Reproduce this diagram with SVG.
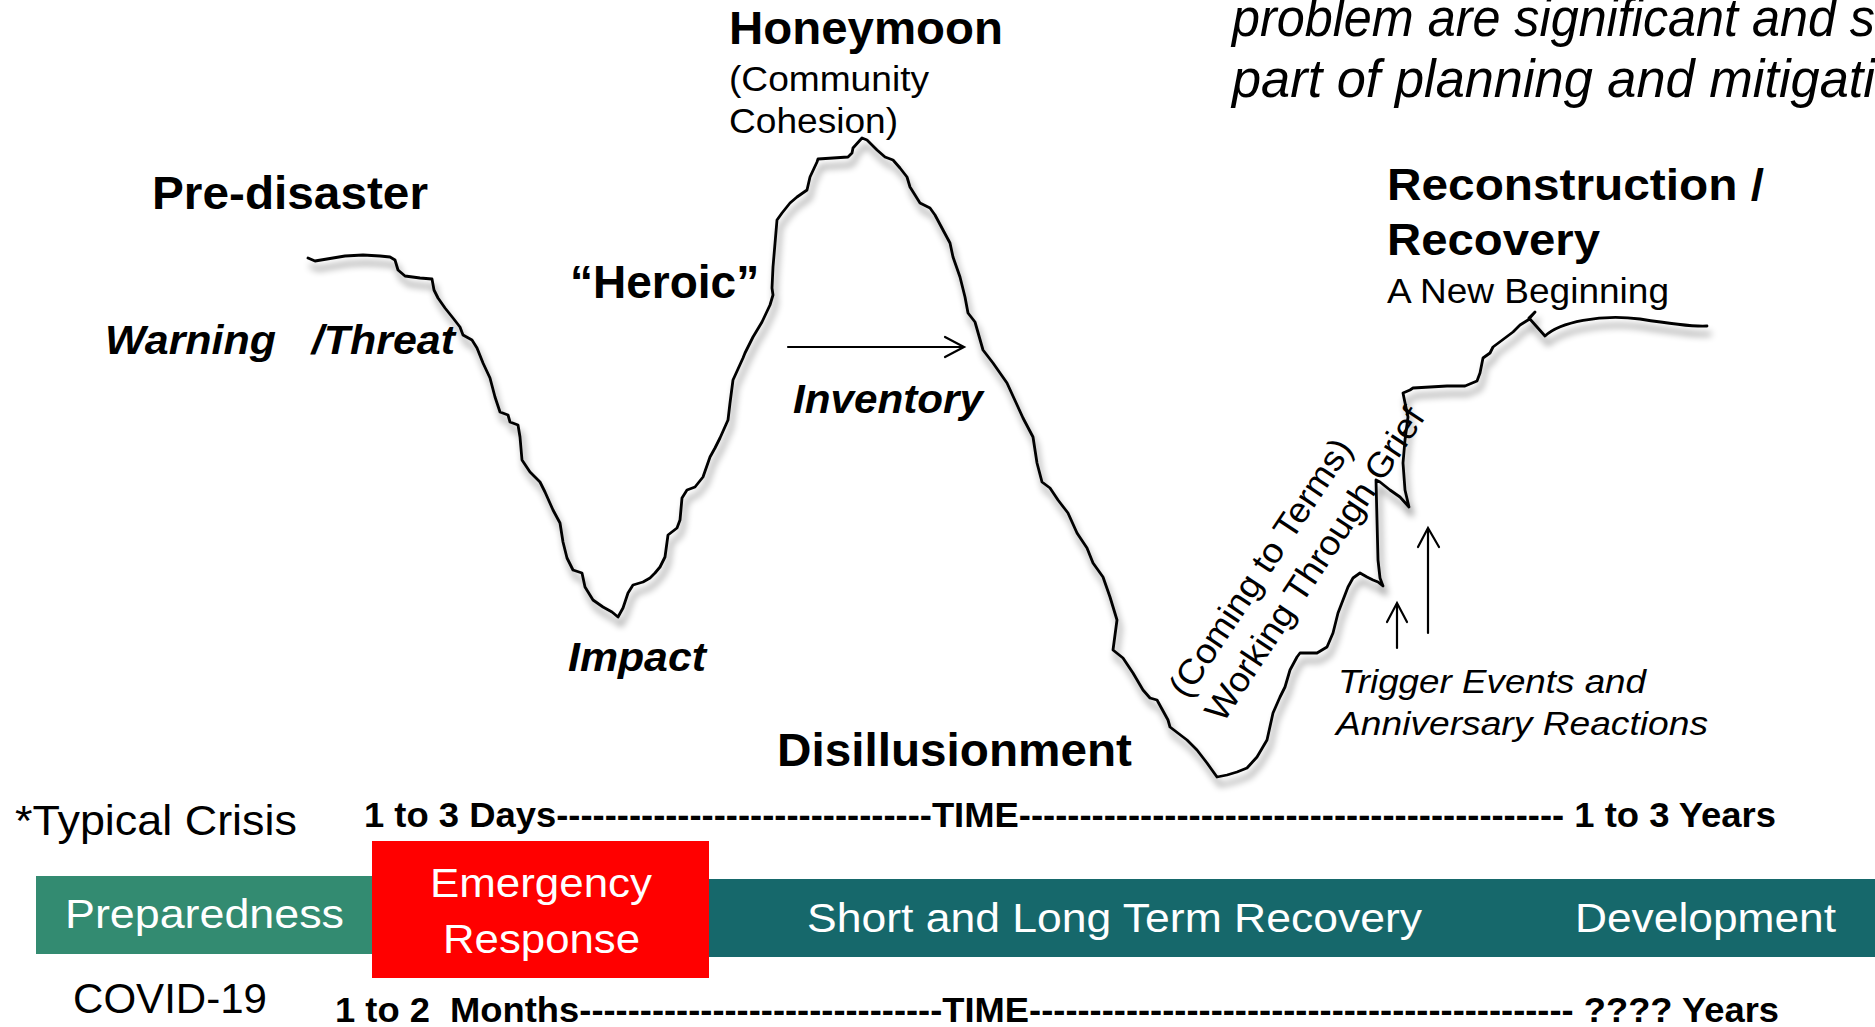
<svg xmlns="http://www.w3.org/2000/svg" width="1875" height="1027" viewBox="0 0 1875 1027">
<style>
text{font-family:"Liberation Sans",Arial,sans-serif;fill:#000}
.b{font-weight:bold}
.i{font-style:italic}
.w{fill:#fff}
.curve{fill:none;stroke:#000;stroke-width:2.8;stroke-linejoin:round;stroke-linecap:round}
.arr{fill:none;stroke:#000;stroke-width:2.2;stroke-linecap:round;stroke-linejoin:miter}
</style>
<defs>
<filter id="shadow" filterUnits="userSpaceOnUse" x="0" y="0" width="1875" height="1027">
<feGaussianBlur in="SourceAlpha" stdDeviation="3.5"/>
<feOffset dx="3" dy="8" result="o"/>
<feComponentTransfer><feFuncA type="linear" slope="0.5"/></feComponentTransfer>
<feMerge><feMergeNode/><feMergeNode in="SourceGraphic"/></feMerge>
</filter>
</defs>
<rect width="1875" height="1027" fill="#fff"/>

<g id="header-text">
<text class="i" x="1232" y="36" font-size="54" textLength="643" lengthAdjust="spacingAndGlyphs">problem are significant and s</text>
<text class="i" x="1232" y="97" font-size="54" textLength="643" lengthAdjust="spacingAndGlyphs">part of planning and mitigati</text>
</g>

<g id="curve">
<path class="curve" filter="url(#shadow)" d="M308,258 L315,261 L327,259 L345,256 L363,255 L380,256 L390,257 L395,260 L398,270 L405,276 L420,278 L432,279 L434,290 L438,298 L445,308 L453,318 L460,327 L463,335 L472,340 L477,348 L483,363 L490,378 L495,397 L500,412 L508,415 L510,422 L518,425 L520,437 L522,460 L530,472 L540,482 L545,492 L553,510 L560,523 L563,542 L567,558 L573,570 L582,573 L585,587 L593,600 L603,607 L612,612 L618,617 L623,608 L628,593 L633,585 L643,582 L650,578 L655,573 L660,567 L665,557 L668,535 L677,528 L680,520 L682,498 L687,490 L695,487 L703,477 L710,457 L715,448 L720,438 L728,420 L730,403 L733,380 L743,358 L745,353 L753,337 L762,322 L770,305 L773,295 L772,288 L773,267 L777,220 L782,213 L790,203 L797,197 L807,190 L810,177 L817,162 L818,159 L848,157 L852,153 L853,148 L862,138 L867,140 L877,150 L885,157 L893,160 L900,168 L907,177 L910,187 L920,203 L930,208 L935,215 L943,230 L950,243 L953,257 L960,277 L965,297 L968,313 L975,322 L983,350 L993,363 L1007,383 L1018,407 L1023,418 L1033,437 L1037,463 L1042,482 L1050,488 L1058,500 L1068,513 L1077,533 L1087,548 L1093,563 L1103,577 L1110,597 L1117,620 L1113,650 L1123,658 L1133,673 L1143,690 L1150,698 L1157,700 L1168,720 L1170,727 L1187,740 L1197,750 L1207,763 L1217,777 L1227,775 L1237,772 L1247,768 L1257,757 L1267,740 L1273,713 L1280,697 L1285,687 L1290,670 L1297,657 L1300,653 L1317,653 L1327,647 L1333,633 L1338,613 L1343,600 L1348,587 L1353,578 L1360,573 L1367,577 L1373,580 L1378,582 L1383,586 L1380,578 L1378,560 L1377,520 L1376,480 L1380,482 L1390,490 L1400,497 L1409,507 L1405,490 L1403,463 L1405,440 L1408,417 L1404,398 L1403,393 L1410,390 L1413,388 L1447,386 L1465,386 L1477,381 L1480,373 L1483,358 L1490,353 L1493,347 L1505,338 L1513,332 L1520,325 L1528,320 L1535,312 L1529,318 L1545,336 C1560,322 1600,314 1640,319 C1665,323 1690,327 1707,326"/>
</g>

<g id="stage-labels">
<g id="honeymoon">
<text class="b" x="729" y="44" font-size="47" textLength="274" lengthAdjust="spacingAndGlyphs">Honeymoon</text>
<text x="729" y="91" font-size="35" textLength="200" lengthAdjust="spacingAndGlyphs">(Community</text>
<text x="729" y="133" font-size="35" textLength="169" lengthAdjust="spacingAndGlyphs">Cohesion)</text>
</g>
<g id="pre-disaster">
<text class="b" x="152" y="209" font-size="47" textLength="276" lengthAdjust="spacingAndGlyphs">Pre-disaster</text>
</g>
<g id="warning">
<text class="b i" x="105" y="354" font-size="40" xml:space="preserve" textLength="350" lengthAdjust="spacingAndGlyphs">Warning   /Threat</text>
</g>
<g id="heroic">
<text class="b" x="570" y="298" font-size="46">“Heroic”</text>
</g>
<g id="inventory">
<text class="b i" x="793" y="413" font-size="41" textLength="190" lengthAdjust="spacingAndGlyphs">Inventory</text>
</g>
<g id="impact">
<text class="b i" x="568" y="671" font-size="41" textLength="138" lengthAdjust="spacingAndGlyphs">Impact</text>
</g>
<g id="disillusionment">
<text class="b" x="777" y="766" font-size="47" textLength="355" lengthAdjust="spacingAndGlyphs">Disillusionment</text>
</g>
<g id="reconstruction">
<text class="b" x="1387" y="200" font-size="44" textLength="377" lengthAdjust="spacingAndGlyphs">Reconstruction /</text>
<text class="b" x="1387" y="255" font-size="44" textLength="213" lengthAdjust="spacingAndGlyphs">Recovery</text>
<text x="1387" y="303" font-size="35" textLength="282" lengthAdjust="spacingAndGlyphs">A New Beginning</text>
</g>
<g id="working-through-grief">
<text font-size="35" transform="translate(1187,700) rotate(-56.5)" textLength="302" lengthAdjust="spacingAndGlyphs">(Coming to Terms)</text>
<text font-size="35" transform="translate(1223,724) rotate(-56.5)" textLength="368" lengthAdjust="spacingAndGlyphs">Working Through Grief</text>
</g>
<g id="trigger-events">
<text class="i" x="1338" y="693" font-size="34" textLength="308" lengthAdjust="spacingAndGlyphs">Trigger Events and</text>
<text class="i" x="1336" y="735" font-size="34" textLength="372" lengthAdjust="spacingAndGlyphs">Anniversary Reactions</text>
</g>
</g>

<g id="connectors">
<line class="arr" x1="788" y1="347" x2="963" y2="347"/>
<polyline class="arr" points="945,337 964,347 945,357"/>
<line class="arr" x1="1397" y1="648" x2="1397" y2="604"/>
<polyline class="arr" points="1387,622 1397,603 1407,622"/>
<line class="arr" x1="1428" y1="633" x2="1428" y2="529"/>
<polyline class="arr" points="1418,547 1428,528 1439,547"/>
</g>

<g id="timeline-typical">
<text x="15" y="835" font-size="42" textLength="282" lengthAdjust="spacingAndGlyphs">*Typical Crisis</text>
<text class="b" x="364" y="827" font-size="35" textLength="1412" lengthAdjust="spacingAndGlyphs">1 to 3 Days-------------------------------TIME--------------------------------------------- 1 to 3 Years</text>
</g>

<g id="phases">
<g id="preparedness">
<rect x="36" y="876" width="337" height="78" fill="#338B71"/>
<text class="w" x="65" y="928" font-size="40" textLength="279" lengthAdjust="spacingAndGlyphs">Preparedness</text>
</g>
<g id="recovery-bar">
<rect x="709" y="879" width="1166" height="78" fill="#16686B"/>
<text class="w" x="807" y="932" font-size="40" textLength="615" lengthAdjust="spacingAndGlyphs">Short and Long Term Recovery</text>
<text class="w" x="1575" y="932" font-size="40" textLength="261" lengthAdjust="spacingAndGlyphs">Development</text>
</g>
<g id="emergency-response">
<rect x="372" y="841" width="337" height="137" fill="#FF0000"/>
<text class="w" x="430" y="897" font-size="40" textLength="222" lengthAdjust="spacingAndGlyphs">Emergency</text>
<text class="w" x="443" y="953" font-size="40" textLength="197" lengthAdjust="spacingAndGlyphs">Response</text>
</g>
</g>

<g id="timeline-covid">
<text x="73" y="1013" font-size="42" textLength="194" lengthAdjust="spacingAndGlyphs">COVID-19</text>
<text class="b" x="335" y="1022" font-size="35" xml:space="preserve" textLength="1444" lengthAdjust="spacingAndGlyphs">1 to 2  Months------------------------------TIME--------------------------------------------- ???? Years</text>
</g>
</svg>
